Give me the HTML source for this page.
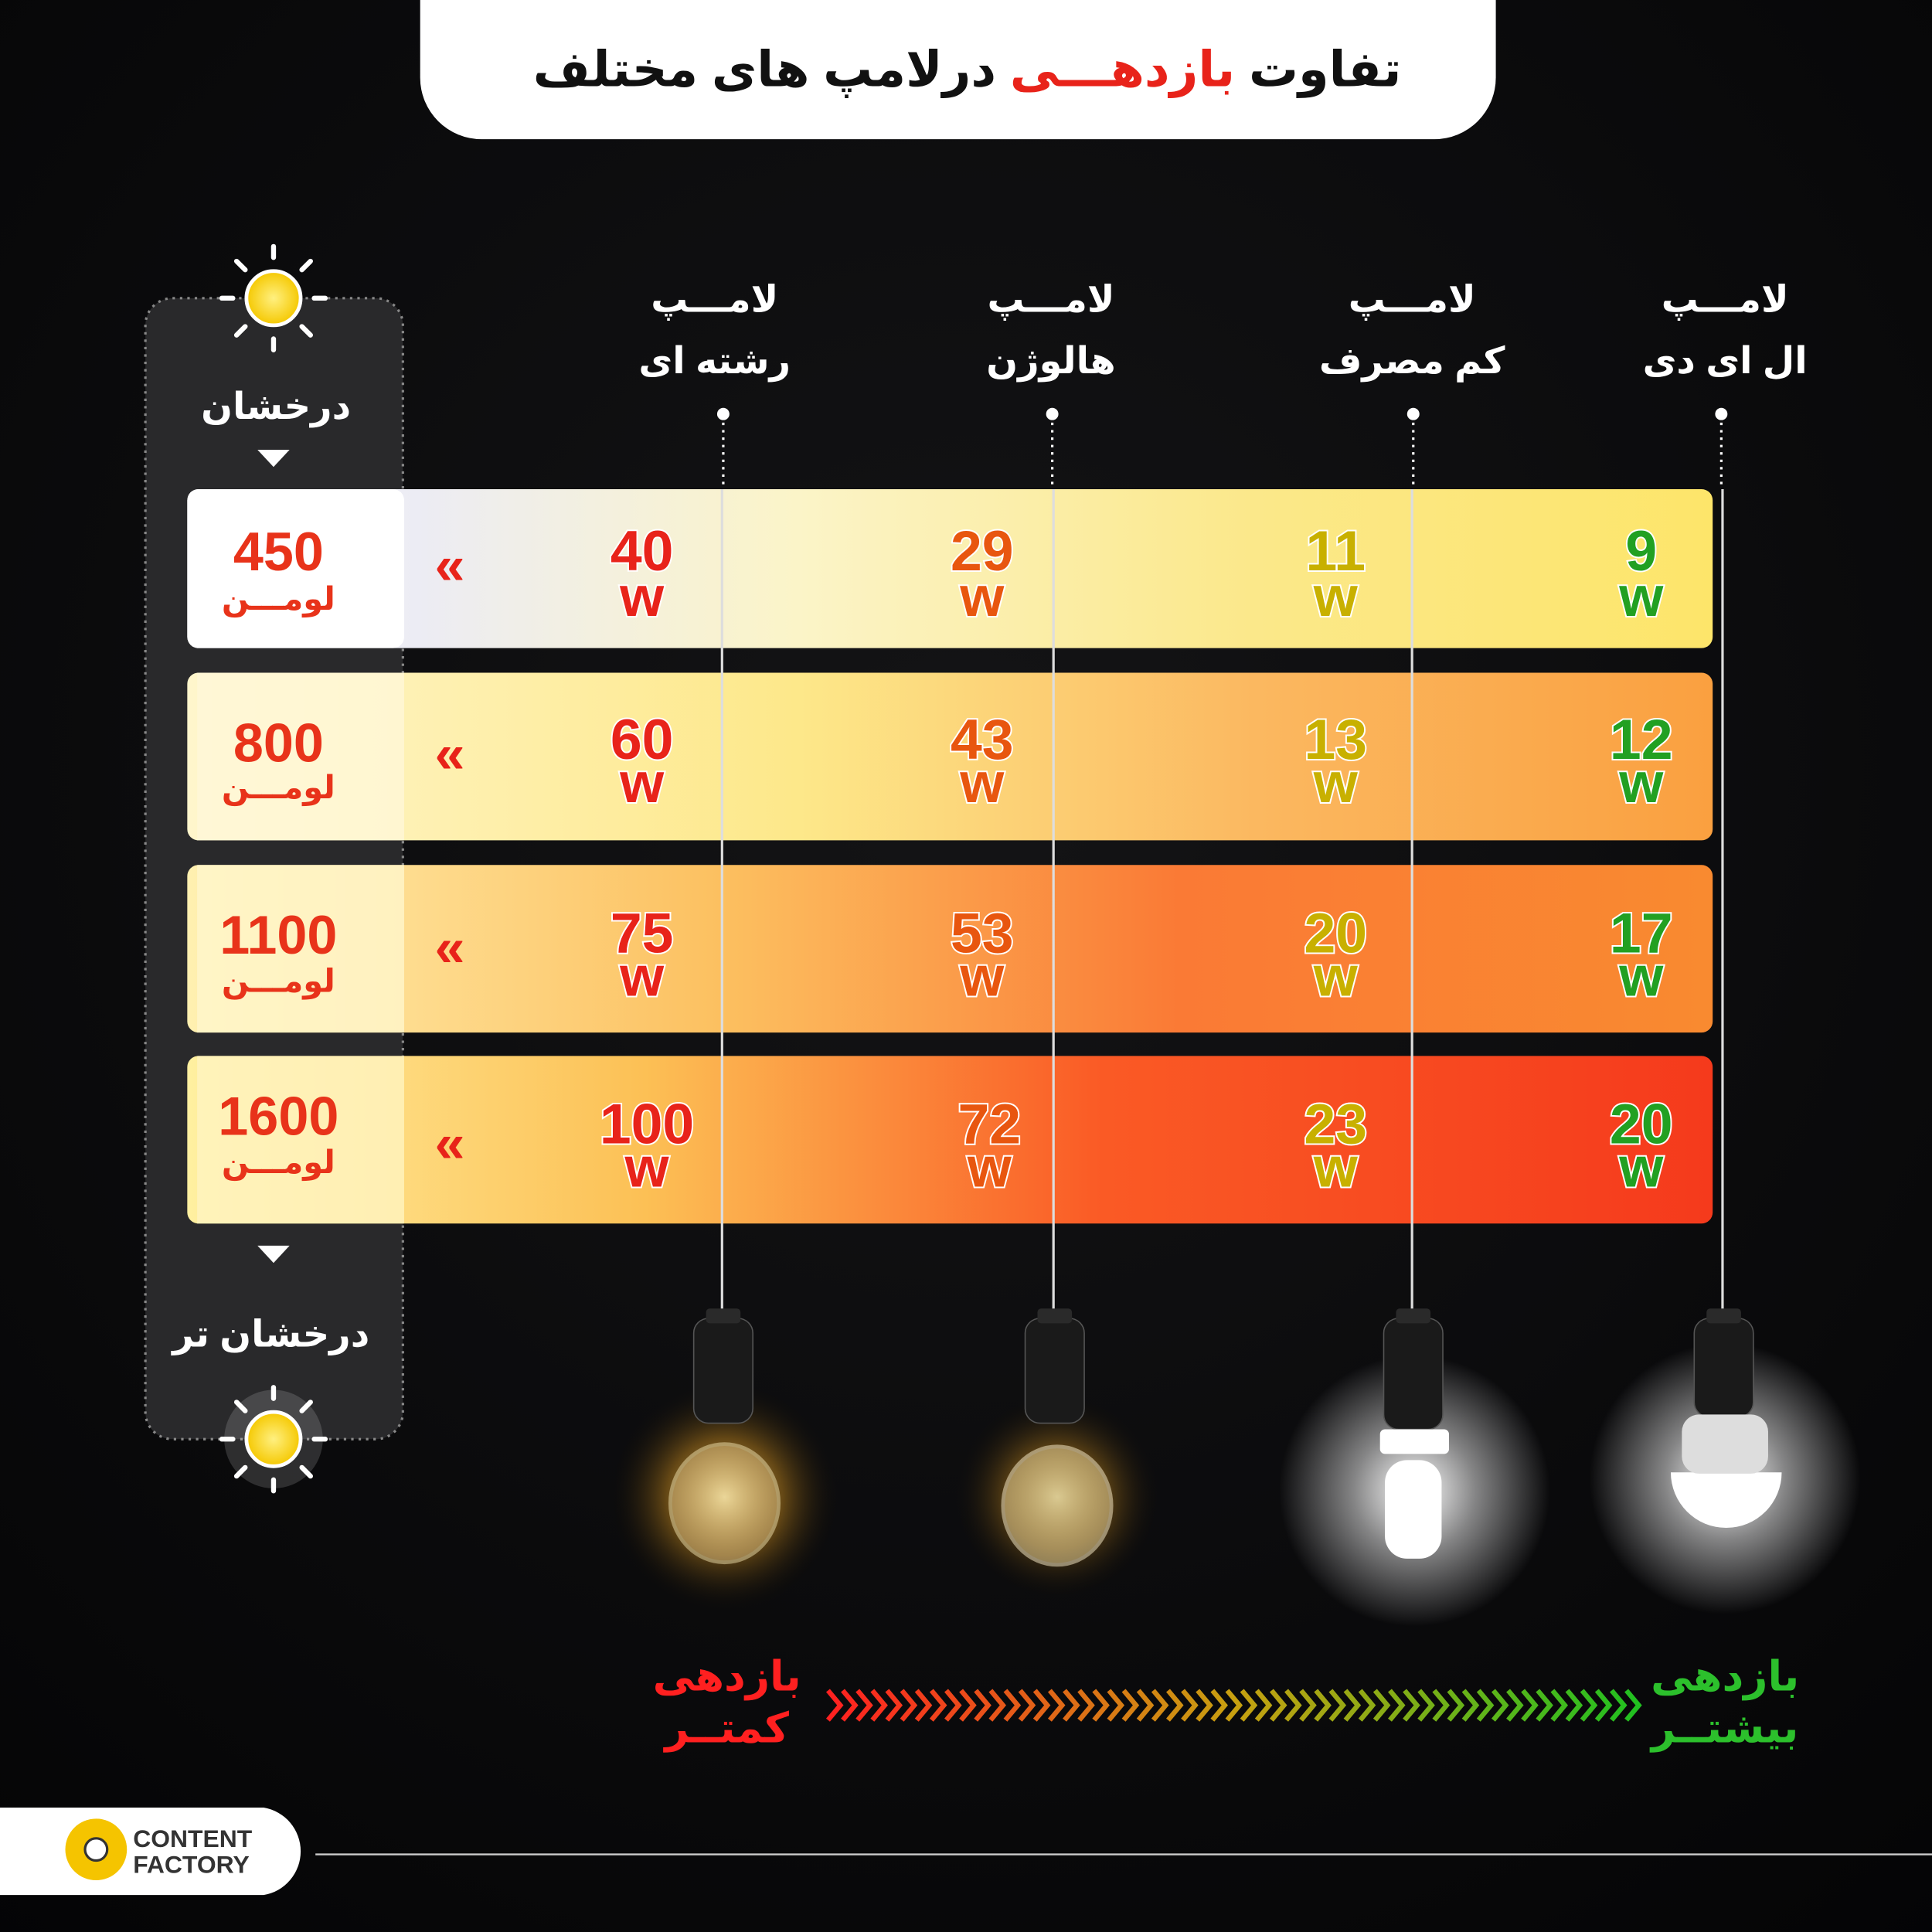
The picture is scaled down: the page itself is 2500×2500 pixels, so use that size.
<!DOCTYPE html>
<html><head><meta charset="utf-8"><style>
html,body{margin:0;padding:0;background:#000;}
svg{display:block;}
text{font-family:"Liberation Sans","DejaVu Sans",sans-serif;font-weight:bold;}
</style></head><body>
<svg width="2500" height="2500" viewBox="0 0 1568 1568" xmlns="http://www.w3.org/2000/svg">
<defs>
<radialGradient id="bg" cx="0.5" cy="0.4" r="0.8"><stop offset="0" stop-color="#141416"/><stop offset="1" stop-color="#040405"/></radialGradient>
<linearGradient id="r1" x1="0" x2="1"><stop offset="0" stop-color="#ffffff"/><stop offset="0.15" stop-color="#ececf4"/><stop offset="0.4" stop-color="#fbf4c8"/><stop offset="0.7" stop-color="#fbe88a"/><stop offset="1" stop-color="#fde56a"/></linearGradient>
<linearGradient id="r2" x1="0" x2="1"><stop offset="0" stop-color="#fff6cc"/><stop offset="0.4" stop-color="#fde88a"/><stop offset="0.7" stop-color="#fbb860"/><stop offset="1" stop-color="#faa040"/></linearGradient>
<linearGradient id="r3" x1="0" x2="1"><stop offset="0" stop-color="#fff0b0"/><stop offset="0.35" stop-color="#fcc060"/><stop offset="0.65" stop-color="#fa7a35"/><stop offset="1" stop-color="#f98a30"/></linearGradient>
<linearGradient id="r4" x1="0" x2="1"><stop offset="0" stop-color="#fff0a0"/><stop offset="0.3" stop-color="#fcc055"/><stop offset="0.6" stop-color="#fa5a25"/><stop offset="1" stop-color="#f53a1c"/></linearGradient>
<linearGradient id="ar" x1="0" x2="1"><stop offset="0" stop-color="#ff2020"/><stop offset="0.5" stop-color="#c8a010"/><stop offset="1" stop-color="#20c020"/></linearGradient>
<radialGradient id="glowY"><stop offset="0" stop-color="#fff3b0" stop-opacity="0.9"/><stop offset="0.5" stop-color="#e8a020" stop-opacity="0.4"/><stop offset="1" stop-color="#000" stop-opacity="0"/></radialGradient>
<radialGradient id="glowW"><stop offset="0" stop-color="#ffffff" stop-opacity="1"/><stop offset="0.45" stop-color="#ffffff" stop-opacity="0.5"/><stop offset="1" stop-color="#fff" stop-opacity="0"/></radialGradient>
<radialGradient id="sun"><stop offset="0" stop-color="#fff080"/><stop offset="1" stop-color="#f5c800"/></radialGradient>
</defs>
<rect width="1568" height="1568" fill="url(#bg)"/>
<path d="M341,0 H1214 V63 A50,50 0 0 1 1164,113 H391 A50,50 0 0 1 341,63 Z" fill="#fff"/>
<text x="785" y="70" font-size="40" text-anchor="middle" direction="rtl" fill="#111">تفاوت <tspan fill="#e8231a">بازدهـــی</tspan> درلامپ های مختلف</text>
<rect x="118" y="242" width="209" height="926" rx="22" fill="#29292b" stroke="#888" stroke-width="2" stroke-dasharray="2,4"/>
<g transform="translate(222,242)">
<circle r="22" fill="url(#sun)" stroke="#fff" stroke-width="3"/>
<g stroke="#fff" stroke-width="4" stroke-linecap="round">
<line x1="0" y1="-33" x2="0" y2="-42"/><line x1="0" y1="33" x2="0" y2="42"/><line x1="-33" y1="0" x2="-42" y2="0"/><line x1="33" y1="0" x2="42" y2="0"/>
<line x1="23" y1="23" x2="30" y2="30"/><line x1="-23" y1="23" x2="-30" y2="30"/><line x1="23" y1="-23" x2="30" y2="-30"/><line x1="-23" y1="-23" x2="-30" y2="-30"/>
</g></g>
<g transform="translate(222,1168)">
<circle r="40" fill="#fff" opacity="0.15"/>
<circle r="22" fill="url(#sun)" stroke="#fff" stroke-width="3"/>
<g stroke="#fff" stroke-width="4" stroke-linecap="round">
<line x1="0" y1="-33" x2="0" y2="-42"/><line x1="0" y1="33" x2="0" y2="42"/><line x1="-33" y1="0" x2="-42" y2="0"/><line x1="33" y1="0" x2="42" y2="0"/>
<line x1="23" y1="23" x2="30" y2="30"/><line x1="-23" y1="23" x2="-30" y2="30"/><line x1="23" y1="-23" x2="30" y2="-30"/><line x1="-23" y1="-23" x2="-30" y2="-30"/>
</g></g>
<text x="224" y="340" font-size="30" fill="#fff" text-anchor="middle">درخشان</text>
<path d="M209,365 H235 L222,379 Z" fill="#fff"/>
<path d="M209,1011 H235 L222,1025 Z" fill="#fff"/>
<text x="220" y="1093" font-size="30" fill="#fff" text-anchor="middle" direction="rtl">درخشان تر</text>
<g fill="#fff" font-size="30" text-anchor="middle">
<text x="580" y="253">لامـــپ</text><text x="580" y="303">رشته ای</text>
<text x="853" y="253">لامـــپ</text><text x="853" y="303">هالوژن</text>
<text x="1146" y="253">لامـــپ</text><text x="1146" y="303">کم مصرف</text>
<text x="1400" y="253">لامـــپ</text><text x="1400" y="303" direction="rtl">ال ای دی</text>
</g>
<g fill="#fff"><circle cx="587" cy="336" r="5"/><circle cx="854" cy="336" r="5"/><circle cx="1147" cy="336" r="5"/><circle cx="1397" cy="336" r="5"/></g>
<g stroke="#fff" stroke-width="2" stroke-dasharray="2,4"><line x1="587" y1="343" x2="587" y2="397"/><line x1="854" y1="343" x2="854" y2="397"/><line x1="1147" y1="343" x2="1147" y2="397"/><line x1="1397" y1="343" x2="1397" y2="397"/></g>
<rect x="152" y="397" width="1238" height="129" rx="9" fill="url(#r1)"/>
<rect x="152" y="546" width="1238" height="136" rx="9" fill="url(#r2)"/>
<rect x="152" y="702" width="1238" height="136" rx="9" fill="url(#r3)"/>
<rect x="152" y="857" width="1238" height="136" rx="9" fill="url(#r4)"/>
<rect x="152" y="397" width="176" height="129" rx="9" fill="#fff"/>
<rect x="160" y="546" width="168" height="136" fill="#fff8d8" opacity="0.8"/>
<rect x="160" y="702" width="168" height="136" fill="#fff6cc" opacity="0.8"/>
<rect x="160" y="857" width="168" height="136" fill="#fff4c0" opacity="0.8"/>
<g stroke="#ddd" stroke-width="2"><line x1="586" y1="397" x2="586" y2="1065"/><line x1="855" y1="397" x2="855" y2="1065"/><line x1="1146" y1="397" x2="1146" y2="1065"/><line x1="1398" y1="397" x2="1398" y2="1065"/></g>
<g text-anchor="middle" fill="#e8331a">
<text x="226" y="463" font-size="44">450</text><text x="226" y="495" font-size="26" font-weight="normal">لومـــن</text>
<text x="226" y="618" font-size="44">800</text><text x="226" y="648" font-size="26" font-weight="normal">لومـــن</text>
<text x="226" y="774" font-size="44">1100</text><text x="226" y="805" font-size="26" font-weight="normal">لومـــن</text>
<text x="226" y="921" font-size="44">1600</text><text x="226" y="952" font-size="26" font-weight="normal">لومـــن</text>
</g>
<g fill="#e8231a" font-size="44" text-anchor="middle"><text x="365" y="474">«</text><text x="365" y="627">«</text><text x="365" y="784">«</text><text x="365" y="943">«</text></g>
<g font-size="46" text-anchor="middle" stroke="#fff" stroke-width="2.5" paint-order="stroke">
<g fill="#e8231a"><text x="521" y="463">40</text><text x="521" y="500">w</text><text x="521" y="616">60</text><text x="521" y="651">w</text><text x="521" y="773">75</text><text x="521" y="808">w</text><text x="525" y="928">100</text><text x="525" y="963">w</text></g>
<g fill="#e8560f"><text x="797" y="463">29</text><text x="797" y="500">w</text><text x="797" y="616">43</text><text x="797" y="651">w</text><text x="797" y="773">53</text><text x="797" y="808">w</text><text x="803" y="928">72</text><text x="803" y="963">w</text></g>
<g fill="#c8b000"><text x="1084" y="463">11</text><text x="1084" y="500">w</text><text x="1084" y="616">13</text><text x="1084" y="651">w</text><text x="1084" y="773">20</text><text x="1084" y="808">w</text><text x="1084" y="928">23</text><text x="1084" y="963">w</text></g>
<g fill="#22a022"><text x="1332" y="463">9</text><text x="1332" y="500">w</text><text x="1332" y="616">12</text><text x="1332" y="651">w</text><text x="1332" y="773">17</text><text x="1332" y="808">w</text><text x="1332" y="928">20</text><text x="1332" y="963">w</text></g>
</g>
<circle cx="588" cy="1215" r="95" fill="url(#glowY)"/>
<circle cx="858" cy="1215" r="85" fill="url(#glowY)" opacity="0.8"/>
<circle cx="1148" cy="1210" r="110" fill="url(#glowW)"/>
<circle cx="1400" cy="1200" r="110" fill="url(#glowW)"/>
<g fill="#1a1a1a" stroke="#555" stroke-width="1">
<rect x="563" y="1070" width="48" height="85" rx="12"/><rect x="832" y="1070" width="48" height="85" rx="12"/><rect x="1123" y="1070" width="48" height="90" rx="12"/><rect x="1375" y="1070" width="48" height="80" rx="12"/>
</g>
<g fill="#2a2a2a"><rect x="573" y="1062" width="28" height="12" rx="3"/><rect x="842" y="1062" width="28" height="12" rx="3"/><rect x="1133" y="1062" width="28" height="12" rx="3"/><rect x="1385" y="1062" width="28" height="12" rx="3"/></g>
<ellipse cx="588" cy="1220" rx="44" ry="48" fill="#f0d090" opacity="0.45" stroke="#fff3c0" stroke-width="3"/>
<ellipse cx="858" cy="1222" rx="44" ry="48" fill="#f8e0a0" opacity="0.5" stroke="#fff3d0" stroke-width="3"/>
<g fill="#fff"><rect x="1120" y="1160" width="56" height="20" rx="4"/><rect x="1124" y="1185" width="46" height="80" rx="18"/></g>
<path d="M1356,1195 A45,45 0 0 0 1446,1195 Z" fill="#fff"/>
<rect x="1365" y="1148" width="70" height="48" rx="14" fill="#ddd"/>
<g text-anchor="middle" font-size="34">
<text x="590" y="1372" fill="#ff2020">بازدهی</text><text x="590" y="1414" fill="#ff2020">کمتــر</text>
<text x="1400" y="1372" fill="#2cc02c">بازدهی</text><text x="1400" y="1414" fill="#2cc02c">بیشتــر</text>
</g>
<g fill="none" stroke="url(#ar)" stroke-width="4">
<path d="M672,1372 L682,1384 L672,1396 M684,1372 L694,1384 L684,1396 M696,1372 L706,1384 L696,1396 M708,1372 L718,1384 L708,1396 M720,1372 L730,1384 L720,1396 M732,1372 L742,1384 L732,1396 M744,1372 L754,1384 L744,1396 M756,1372 L766,1384 L756,1396 M768,1372 L778,1384 L768,1396 M780,1372 L790,1384 L780,1396 M792,1372 L802,1384 L792,1396 M804,1372 L814,1384 L804,1396 M816,1372 L826,1384 L816,1396 M828,1372 L838,1384 L828,1396 M840,1372 L850,1384 L840,1396 M852,1372 L862,1384 L852,1396 M864,1372 L874,1384 L864,1396 M876,1372 L886,1384 L876,1396 M888,1372 L898,1384 L888,1396 M900,1372 L910,1384 L900,1396 M912,1372 L922,1384 L912,1396 M924,1372 L934,1384 L924,1396 M936,1372 L946,1384 L936,1396 M948,1372 L958,1384 L948,1396 M960,1372 L970,1384 L960,1396 M972,1372 L982,1384 L972,1396 M984,1372 L994,1384 L984,1396 M996,1372 L1006,1384 L996,1396 M1008,1372 L1018,1384 L1008,1396 M1020,1372 L1030,1384 L1020,1396 M1032,1372 L1042,1384 L1032,1396 M1044,1372 L1054,1384 L1044,1396 M1056,1372 L1066,1384 L1056,1396 M1068,1372 L1078,1384 L1068,1396 M1080,1372 L1090,1384 L1080,1396 M1092,1372 L1102,1384 L1092,1396 M1104,1372 L1114,1384 L1104,1396 M1116,1372 L1126,1384 L1116,1396 M1128,1372 L1138,1384 L1128,1396 M1140,1372 L1150,1384 L1140,1396 M1152,1372 L1162,1384 L1152,1396 M1164,1372 L1174,1384 L1164,1396 M1176,1372 L1186,1384 L1176,1396 M1188,1372 L1198,1384 L1188,1396 M1200,1372 L1210,1384 L1200,1396 M1212,1372 L1222,1384 L1212,1396 M1224,1372 L1234,1384 L1224,1396 M1236,1372 L1246,1384 L1236,1396 M1248,1372 L1258,1384 L1248,1396 M1260,1372 L1270,1384 L1260,1396 M1272,1372 L1282,1384 L1272,1396 M1284,1372 L1294,1384 L1284,1396 M1296,1372 L1306,1384 L1296,1396 M1308,1372 L1318,1384 L1308,1396 M1320,1372 L1330,1384 L1320,1396"/>
</g>
<path d="M0,1467 H214 A36,36 0 0 1 214,1538 H0 Z" fill="#fff"/>
<circle cx="78" cy="1501" r="25" fill="#f5c400"/>
<circle cx="78" cy="1501" r="9" fill="#fff" stroke="#333" stroke-width="2"/>
<text x="108" y="1499" font-size="20" fill="#333">CONTENT</text>
<text x="108" y="1520" font-size="20" fill="#333">FACTORY</text>
<line x1="256" y1="1505" x2="1568" y2="1505" stroke="#ccc" stroke-width="1.5"/>
</svg>
</body></html>
